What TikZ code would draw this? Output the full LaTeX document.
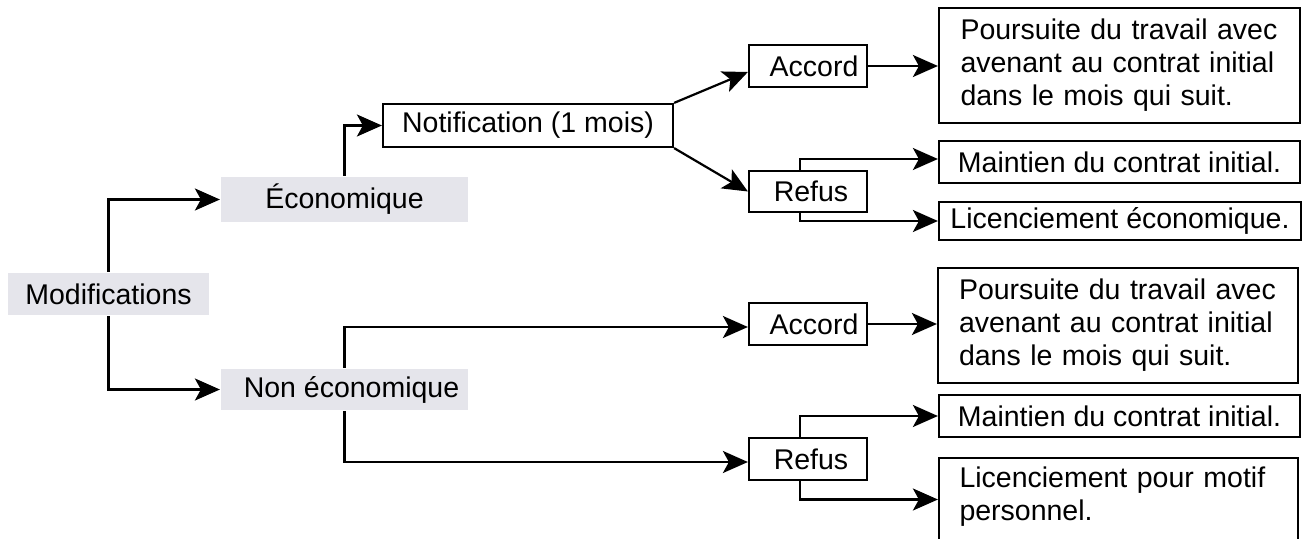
\documentclass[tikz,border=0pt]{standalone}
\usepackage{fontspec}
\setmainfont{Liberation Sans}
\usetikzlibrary{arrows.meta}
\definecolor{boxgray}{RGB}{229,229,235}
\begin{document}
\begin{tikzpicture}[x=1pt,y=-1pt,
  txt/.style={font=\fontsize{28.5}{33}\selectfont, inner sep=0pt, line width=2.2pt},
  graybox/.style={txt, fill=boxgray},
  wbox/.style={txt, draw=black, fill=white},
  multibox/.style={wbox, text width=318pt, align=left},
  conn/.style={line width=2.2pt, -{Stealth[length=25pt,width=22pt,inset=6pt]}}
]
\useasboundingbox (0,0) rectangle (1303,538);
\clip (0,0) rectangle (1303,538);

\node[graybox, minimum width=201pt, minimum height=42pt] (mod) at (108.5,294) {Modifications};
\node[graybox, minimum width=247pt, minimum height=45pt] (eco) at (344.5,199.5) {Économique};
\node[graybox, minimum width=247pt, minimum height=41pt] (neco) at (344.5,389.5) {\hspace{14pt}Non économique};

\node[wbox, minimum width=290pt, minimum height=43pt] (notif) at (528,125.5) {Notification (1 mois)};
\node[wbox, minimum width=118pt, minimum height=42pt] (acc1) at (808,66) {\hspace{12pt}Accord};
\node[wbox, minimum width=118pt, minimum height=41pt] (ref1) at (808,191.5) {\hspace{6pt}Refus};
\node[wbox, minimum width=118pt, minimum height=42pt] (acc2) at (808,324) {\hspace{12pt}Accord};
\node[wbox, minimum width=118pt, minimum height=42pt] (ref2) at (808,459) {\hspace{6pt}Refus};

\node[multibox, minimum width=361pt, minimum height=115pt] (p1) at (1119.5,65.5) {Poursuite du travail avec\\avenant au contrat initial\\dans le mois qui suit.};
\node[wbox, minimum width=361pt, minimum height=42pt] (m1) at (1119.5,162) {Maintien du contrat initial.};
\node[wbox, minimum width=362pt, minimum height=38pt] (l1) at (1120,221) {Licenciement économique.};
\node[multibox, minimum width=360pt, minimum height=115pt] (p2) at (1118,325.5) {Poursuite du travail avec\\avenant au contrat initial\\dans le mois qui suit.};
\node[wbox, minimum width=361pt, minimum height=42pt] (m2) at (1119.5,416) {Maintien du contrat initial.};
\node[multibox, minimum width=359pt, minimum height=115pt] (l2) at (1118.5,515.5) {Licenciement pour motif\\personnel.\\\strut};

\draw[conn] (mod.north) |- (eco.west);
\draw[conn] (mod.south) |- (neco.west);
\draw[conn] (eco.north) |- (notif.west);
\draw[conn] (notif.north east) -- ([yshift=-6pt]acc1.west);
\draw[conn] (notif.south east) -- (ref1.west);
\draw[conn] (acc1.east) -- (acc1.east -| p1.west);
\draw[conn] ([xshift=-8pt]ref1.north) |- ([yshift=3pt]m1.west);
\draw[conn] ([xshift=-8pt]ref1.south) |- (l1.west);
\draw[conn] (neco.north) |- ([yshift=-3pt]acc2.west);
\draw[conn] (neco.south) |- ([yshift=-3pt]ref2.west);
\draw[conn] (acc2.east) -- (acc2.east -| p2.west);
\draw[conn] ([xshift=-8pt]ref2.north) |- (m2.west);
\draw[conn] ([xshift=-8pt]ref2.south) |- ([yshift=16pt]l2.west);
\end{tikzpicture}
\end{document}
